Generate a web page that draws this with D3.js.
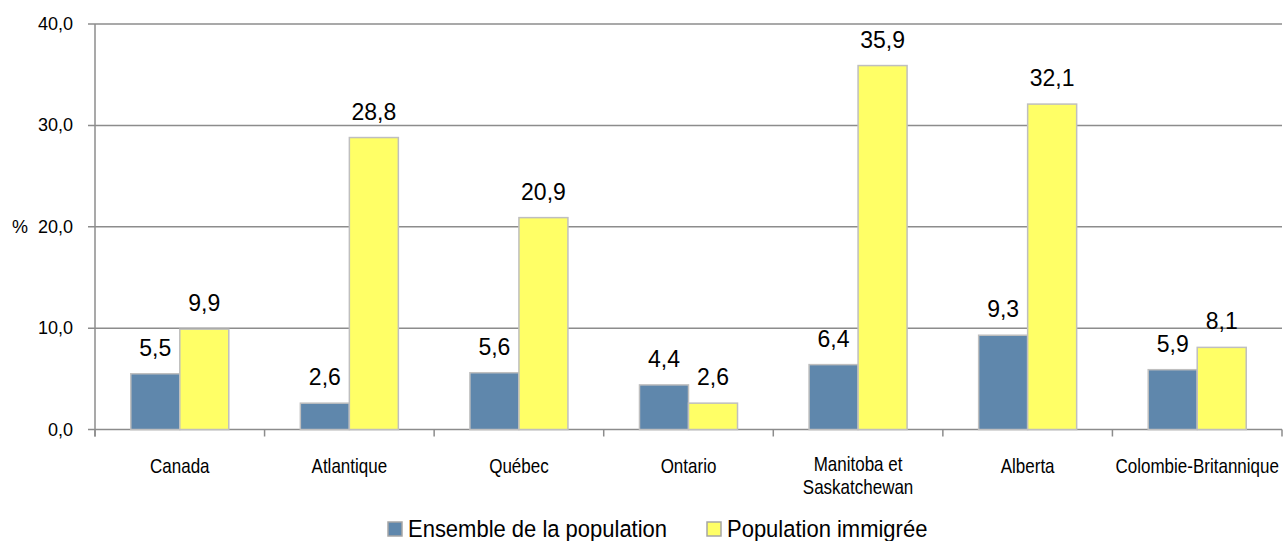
<!DOCTYPE html>
<html>
<head>
<meta charset="utf-8">
<script src="https://cdn.jsdelivr.net/npm/d3@7"></script>
<style>
	body { margin: 0; background: #fff; }
	text { font-family: Arial, "Liberation Sans", sans-serif; fill: #000; }
</style>
</head>
<body>
<svg id="chart" width="1285" height="541"></svg>
<script>
	var categories = [ "Canada", "Atlantique", "Québec", "Ontario", "Manitoba et|Saskatchewan", "Alberta", "Colombie-Britannique" ];
	var seriesNames = [ "Ensemble de la population", "Population immigrée" ];
	var ensemble = [ 5.5, 2.6, 5.6, 4.4, 6.4, 9.3, 5.9 ];
	var immigree = [ 9.9, 28.8, 20.9, 2.6, 35.9, 32.1, 8.1 ];
	var yTicks = [ 0, 10, 20, 30, 40 ];
	var colors = [ "#5f87ac", "#ffff66" ];

	var svg = d3.select("#chart");
	var plotLeft = 95, plotRight = 1282, plotTop = 24, plotBottom = 429.5;

	var x0 = d3.scaleBand().domain(categories).range([ plotLeft, plotRight ]).padding(0);
	var x1 = d3.scaleBand().domain([ 0, 1 ]).range([ 0, x0.bandwidth() ]).paddingInner(0).paddingOuter(0.73);
	var y = d3.scaleLinear().domain([ 0, 40 ]).range([ plotBottom, plotTop ]);

	var fmt = function(v) {
		return d3.format(".1f")(v).replace(".", ",");
	};

	// grid lines
	svg.append("g").selectAll("line").data(yTicks).enter().append("line")//
	.attr("x1", plotLeft - 7).attr("x2", plotRight)//
	.attr("y1", function(d) { return y(d); })//
	.attr("y2", function(d) { return y(d); })//
	.attr("stroke", "#8c8c8c").attr("stroke-width", 1.5);

	// y axis line
	svg.append("line").attr("x1", plotLeft).attr("x2", plotLeft).attr("y1", plotTop).attr("y2", plotBottom + 7)//
	.attr("stroke", "#8c8c8c").attr("stroke-width", 1.5);

	// x ticks at band edges
	var edges = categories.map(function(c) { return x0(c); }).concat([ plotRight ]);
	svg.append("g").selectAll("line").data(edges).enter().append("line")//
	.attr("x1", function(d) { return d; }).attr("x2", function(d) { return d; })//
	.attr("y1", plotBottom).attr("y2", plotBottom + 7)//
	.attr("stroke", "#8c8c8c").attr("stroke-width", 1.5);

	// y tick labels
	svg.append("g").selectAll("text").data(yTicks).enter().append("text")//
	.attr("x", plotLeft - 22).attr("y", function(d) { return y(d) + 6; })//
	.attr("text-anchor", "end").style("font-size", "18px")//
	.text(function(d) { return fmt(d); });

	svg.append("text").attr("x", 12).attr("y", y(20) + 6).style("font-size", "18px").text("%");

	// bars
	var rows = categories.map(function(c, i) {
		return { cat: c, values: [ ensemble[i], immigree[i] ] };
	});

	var groups = svg.append("g").selectAll("g").data(rows).enter().append("g")//
	.attr("transform", function(d) { return "translate(" + x0(d.cat) + ",0)"; });

	groups.selectAll("rect").data(function(d) { return d.values; }).enter().append("rect")//
	.attr("x", function(d, i) { return x1(i); })//
	.attr("y", function(d) { return y(d); })//
	.attr("width", x1.bandwidth())//
	.attr("height", function(d) { return y(0) - y(d); })//
	.attr("fill", function(d, i) { return colors[i]; })//
	.attr("stroke", "#bfbfbf").attr("stroke-width", 1.5);

	groups.selectAll("text.val").data(function(d) { return d.values; }).enter().append("text")//
	.attr("class", "val")//
	.attr("transform", function(d, i) {
		return "translate(" + (x1(i) + x1.bandwidth() / 2) + "," + (y(d) - 18) + ") scale(1,1.05)";
	})//
	.attr("text-anchor", "middle").style("font-size", "23px")//
	.text(function(d) { return fmt(d); });

	// category labels (source font is a bit taller than Arial)
	var catLabels = svg.append("g").selectAll("text").data(categories).enter().append("text")//
	.attr("transform", function(d) {
		var base = d.indexOf("|") >= 0 ? 471 : 473;
		return "translate(" + (x0(d) + x0.bandwidth() / 2) + "," + base + ") scale(1,1.2)";
	})//
	.attr("text-anchor", "middle").style("font-size", "17px");
	catLabels.each(function(d) {
		var t = d3.select(this);
		d.split("|").forEach(function(p, i) {
			t.append("tspan").attr("x", 0).attr("dy", i == 0 ? 0 : 19).text(p);
		});
	});

	// legend
	var legendX = [ 388, 707 ];
	var legend = svg.append("g").selectAll("g").data(seriesNames).enter().append("g")//
	.attr("transform", function(d, i) { return "translate(" + legendX[i] + ",522)"; });
	legend.append("rect").attr("width", 14).attr("height", 14)//
	.attr("fill", function(d, i) { return colors[i]; })//
	.attr("stroke", "#a6a6a6").attr("stroke-width", 1.5);
	legend.append("text").attr("transform", "translate(20,15) scale(1,1.08)").style("font-size", "22px")//
	.text(function(d) { return d; });
</script>
</body>
</html>
